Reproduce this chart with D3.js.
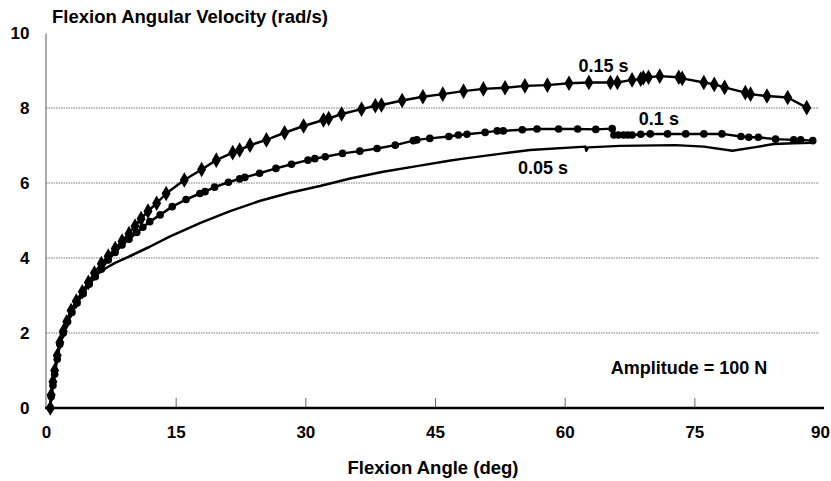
<!DOCTYPE html>
<html>
<head>
<meta charset="utf-8">
<script src="https://cdn.jsdelivr.net/npm/d3@7/dist/d3.min.js"></script>
<style>
  html, body { margin: 0; padding: 0; background: #fff; }
  svg { display: block; }
  text { font-family: "Liberation Sans", Arial, Helvetica, sans-serif; font-weight: bold; fill: #000; }
</style>
</head>
<body>
<svg id="chart" width="831" height="481"></svg>
<script>
// Flexion angular velocity vs. flexion angle, three pulse durations
const xTicks = [0, 15, 30, 45, 60, 75, 90];
const yTicks = [0, 2, 4, 6, 8, 10];
const gridValues = [2, 4, 6, 8];

// 0.15 s series (diamond markers): [angle deg, velocity rad/s]
const s015 = [
  [0.5,0],[0.6,0.35],[0.8,0.7],[1.0,1.0],[1.3,1.4],[1.6,1.75],[2.0,2.05],[2.4,2.3],
  [2.9,2.6],[3.5,2.85],[4.2,3.1],[4.9,3.35],[5.6,3.6],[6.4,3.85],[7.2,4.05],[8.0,4.25],
  [8.8,4.45],[9.6,4.65],[10.3,4.85],[11.0,5.05],[11.8,5.25],[12.8,5.46],[13.9,5.72],
  [16.0,6.08],[18.0,6.36],[19.7,6.61],[21.6,6.81],[22.4,6.88],[23.6,7.01],[25.5,7.15],
  [27.6,7.34],[29.8,7.52],[32.1,7.68],[32.7,7.72],[34.2,7.84],[36.5,7.97],[38.1,8.06],
  [38.8,8.08],[41.2,8.2],[43.6,8.3],[45.9,8.37],[48.3,8.45],[50.6,8.51],[53.1,8.54],
  [55.4,8.59],[58.0,8.61],[60.5,8.66],[62.8,8.68],[65.3,8.68],[66.1,8.68],[67.8,8.75],
  [68.8,8.77],[69.1,8.81],[69.7,8.82],[71.0,8.85],[73.2,8.82],[73.6,8.79],[76.1,8.68],
  [77.3,8.63],[78.5,8.55],[80.9,8.41],[81.5,8.37],[83.4,8.32],[85.8,8.28],[88.0,8.01]
];

// 0.1 s series (circle markers)
const s010 = [
  [0.5,0],[0.6,0.3],[0.8,0.6],[1.0,0.9],[1.3,1.3],[1.6,1.7],[2.0,2.0],[2.5,2.3],
  [3.0,2.55],[3.6,2.8],[4.3,3.05],[5.0,3.3],[5.7,3.5],[6.4,3.7],[7.2,3.95],[8.0,4.15],
  [8.8,4.35],[9.6,4.5],[10.5,4.68],[11.2,4.82],[12.0,4.97],[13.2,5.15],[14.6,5.37],
  [16.2,5.56],[17.8,5.72],[18.4,5.77],[19.5,5.89],[21.1,6.02],[22.4,6.11],[23.0,6.15],
  [24.7,6.26],[26.6,6.39],[28.4,6.5],[30.3,6.61],[31.1,6.65],[32.3,6.7],[34.3,6.79],
  [36.3,6.85],[38.3,6.92],[40.4,7.01],[42.5,7.13],[42.9,7.15],[44.4,7.19],[46.6,7.24],
  [47.7,7.28],[48.7,7.3],[50.8,7.35],[52.2,7.39],[52.9,7.39],[55.1,7.42],[56.8,7.44],
  [59.3,7.44],[61.5,7.44],[63.6,7.43],[65.5,7.45],[65.7,7.28],[66.2,7.28],[66.8,7.28],
  [67.3,7.28],[67.8,7.28],[68.8,7.3],[69.9,7.31],[71.9,7.31],[74.0,7.31],[76.1,7.31],
  [78.2,7.31],[80.4,7.24],[81.3,7.22],[82.4,7.22],[84.4,7.17],[86.5,7.15],[87.3,7.15],
  [88.7,7.13]
];

// 0.05 s series (plain line)
const s005 = [
  [0.5,0],[0.7,0.5],[1.0,1.0],[1.5,1.6],[2.0,2.0],[3.0,2.55],[4.0,3.0],[5.0,3.3],
  [6.0,3.58],[7.0,3.74],[8.0,3.87],[10.0,4.08],[12.0,4.3],[14.3,4.57],[17.8,4.93],
  [21.3,5.25],[24.7,5.52],[28.2,5.74],[31.7,5.92],[35.2,6.12],[39.0,6.3],[42.9,6.45],
  [46.8,6.6],[48.3,6.65],[52.9,6.79],[56.0,6.88],[62.4,6.97],[62.5,6.86],[62.7,6.95],
  [66.4,6.99],[72.8,7.01],[76.1,6.97],[79.4,6.86],[81.9,6.95],[84.2,7.04],[86.5,7.06],
  [88.5,7.07]
];

const seriesLabels = [
  { text: "0.15 s", x: 64.5, y: 9.1 },
  { text: "0.1 s",  x: 70.9, y: 7.67 },
  { text: "0.05 s", x: 57.5, y: 6.37 }
];

const svg = d3.select("#chart");
const x = d3.scaleLinear().domain([0, 90]).range([46, 824]);
const y = d3.scaleLinear().domain([0, 10]).range([408, 33]);

// dotted horizontal gridlines
svg.append("g").selectAll("line").data(gridValues).join("line")
  .attr("x1", 46).attr("x2", 819)
  .attr("y1", d => y(d)).attr("y2", d => y(d))
  .attr("stroke", "#777").attr("stroke-width", 1)
  .attr("stroke-dasharray", "1.5,1");

// y axis
const yAxis = d3.axisLeft(y).tickValues(yTicks).tickSize(0).tickPadding(16).tickFormat(d3.format("d"));
const gy = svg.append("g").attr("transform", "translate(45.5,0)").call(yAxis);
gy.select(".domain").attr("stroke", "#555").attr("stroke-width", 1);
gy.selectAll("text").style("font-size", "17px").style("font-family", "'Liberation Sans', Arial, sans-serif").style("font-weight", "bold");

// x axis with inward ticks
const xAxis = d3.axisBottom(x).tickValues(xTicks).tickSize(0).tickPadding(18).tickFormat(d3.format("d"));
const gx = svg.append("g").attr("transform", "translate(0,408)").call(xAxis);
gx.select(".domain").remove();
gx.selectAll("text").style("font-size", "17px").style("font-family", "'Liberation Sans', Arial, sans-serif").style("font-weight", "bold")
  .attr("dx", d => d === 90 ? -4 : 0);
gx.selectAll(".tick").filter(d => d > 0 && d < 90).append("line")
  .attr("y1", 0).attr("y2", -10).attr("stroke", "#666").attr("stroke-width", 1);
svg.append("line").attr("x1", 45).attr("x2", x(90)).attr("y1", 408).attr("y2", 408)
  .attr("stroke", "#000").attr("stroke-width", 2.5);

// series lines
const line = d3.line().x(d => x(d[0])).y(d => y(d[1]));
[s005, s010, s015].forEach(s => {
  svg.append("path").datum(s).attr("d", line)
    .attr("fill", "none").attr("stroke", "#000").attr("stroke-width", 2.5)
    .attr("stroke-linejoin", "round");
});

// circle markers for 0.1 s
svg.append("g").selectAll("circle").data(s010).join("circle")
  .attr("cx", d => x(d[0])).attr("cy", d => y(d[1])).attr("r", 3.8).attr("fill", "#000");

// diamond markers for 0.15 s
const diamond = d3.symbol().type(d3.symbolDiamond).size(70);
svg.append("g").selectAll("path").data(s015).join("path")
  .attr("d", diamond)
  .attr("transform", d => `translate(${x(d[0])},${y(d[1])})`)
  .attr("fill", "#000");

// series labels
svg.append("g").selectAll("text").data(seriesLabels).join("text")
  .attr("x", d => x(d.x)).attr("y", d => y(d.y))
  .attr("text-anchor", "middle").attr("dominant-baseline", "middle")
  .style("font-size", "18px").text(d => d.text);

// annotation
svg.append("text").attr("x", 689).attr("y", 374).attr("text-anchor", "middle")
  .style("font-size", "18px").text("Amplitude = 100 N");

// axis titles
svg.append("text").attr("x", 52).attr("y", 23).style("font-size", "18.5px")
  .text("Flexion Angular Velocity (rad/s)");
svg.append("text").attr("x", 433).attr("y", 474)
  .attr("text-anchor", "middle").style("font-size", "18.5px")
  .text("Flexion Angle (deg)");
</script>
</body>
</html>
